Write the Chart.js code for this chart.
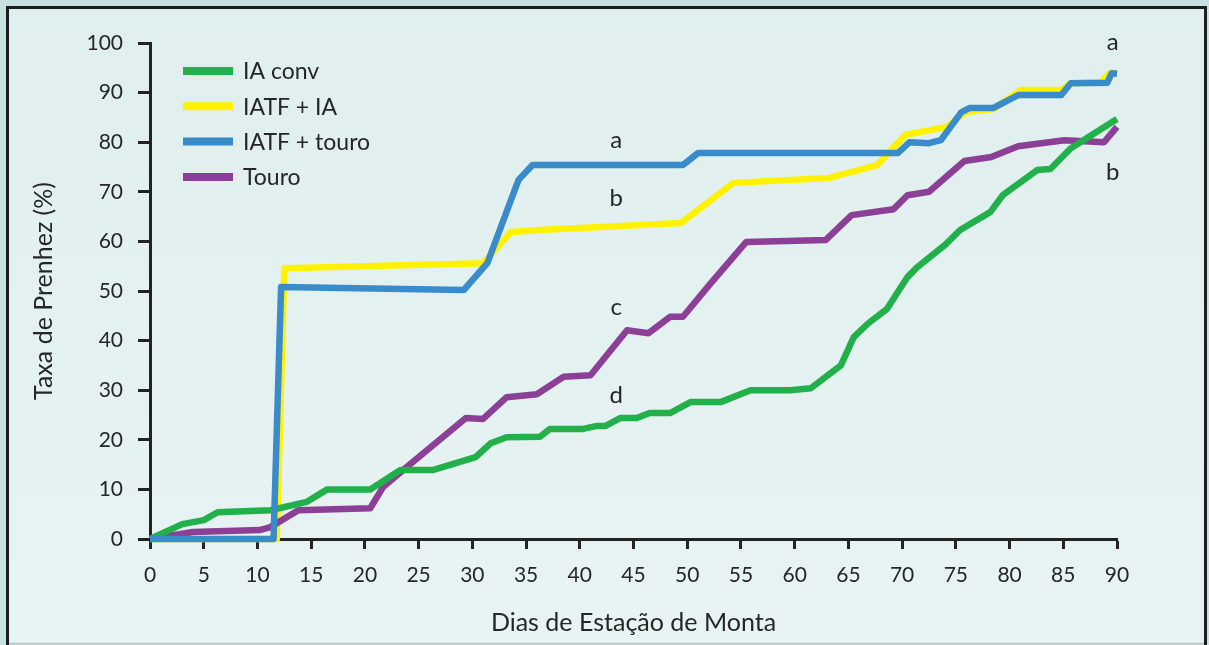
<!DOCTYPE html>
<html>
<head>
<meta charset="utf-8">
<script src="https://cdn.jsdelivr.net/npm/chart.js@4.4.0/dist/chart.umd.min.js"></script>
<style>
  html, body { margin: 0; padding: 0; background: #c8e1e1; }
  #wrap { position: relative; width: 1209px; height: 645px; }
</style>
</head>
<body>
<div id="wrap"><canvas id="chart" width="1209" height="645"></canvas></div>
<script>
// Dias de Estação de Monta (x) / Taxa de Prenhez % (y)
const iaConvX = [0, 3, 5, 6.3, 11.2, 14.6, 16.5, 20.5, 23.3, 26.3, 30.3, 31.7, 33.2, 36.3, 37.2, 40.3, 41.6, 42.4, 43.8, 45.3, 46.5, 48.4, 50.3, 53.1, 55.9, 59.6, 61.5, 64.3, 65.5, 66.8, 68.6, 70.5, 71.4, 74, 75.4, 78.2, 79.4, 82.6, 83.8, 85.7, 90];
const iaConvY = [0, 3, 3.8, 5.4, 5.8, 7.5, 10, 10, 13.9, 13.9, 16.5, 19.3, 20.5, 20.6, 22.2, 22.2, 22.8, 22.8, 24.4, 24.4, 25.4, 25.4, 27.6, 27.6, 30, 30, 30.4, 35, 40.7, 43.4, 46.4, 52.8, 54.8, 59.3, 62.3, 65.9, 69.4, 74.4, 74.6, 78.8, 84.7];

const iatfIaX = [0, 11.8, 12.5, 31, 33.6, 36.3, 49.4, 54.3, 63.2, 67.7, 70.3, 74.2, 75.9, 78.5, 81, 84.8, 85.7, 88.5, 89.3, 90];
const iatfIaY = [0, 0, 54.6, 55.6, 61.9, 62.3, 63.7, 71.8, 72.8, 75.4, 81.5, 83.1, 86.1, 86.7, 90.5, 90.5, 91.9, 92.1, 93.9, 93.9];

const iatfTouroX = [0, 11.5, 12.2, 29.2, 31.4, 34.3, 35.6, 49.6, 51, 69.6, 70.7, 72.5, 73.6, 75.5, 76.3, 78.5, 80.8, 84.8, 85.7, 89.1, 89.5, 90];
const iatfTouroY = [0, 0, 50.8, 50.2, 55.6, 72.4, 75.4, 75.4, 77.8, 77.8, 80, 79.8, 80.4, 86, 86.9, 86.9, 89.5, 89.5, 91.9, 92, 93.9, 93.8];

const touroX = [0, 4, 10.2, 11.2, 13.8, 20.5, 21.7, 23.9, 29.4, 31, 33.2, 36, 38.5, 41, 44.4, 46.4, 48.4, 49.6, 52.2, 55.5, 62.9, 65.3, 69.2, 70.5, 72.5, 75.8, 78.3, 80.8, 85.1, 88.8, 90];
const touroY = [0, 1.4, 1.8, 2.4, 5.8, 6.2, 10.5, 14.5, 24.4, 24.2, 28.6, 29.2, 32.7, 33, 42.1, 41.5, 44.8, 44.8, 51.6, 59.9, 60.3, 65.3, 66.5, 69.3, 70, 76.2, 77, 79.2, 80.4, 80, 83.1];

// letras de significância
const letterText = ['a', 'b', 'c', 'd', 'a', 'b'];
const letterX = [43.4, 43.4, 43.4, 43.4, 89.6, 89.6];
const letterY = [80.4, 68.7, 46.8, 29, 100.2, 74];

const xTicksMax = 90, xStep = 5, yMax = 100, yStep = 10;

const textColor = '#262626';
const FONT = 'Lato, "Noto Sans", sans-serif';

function pts(xs, ys) { return xs.map((x, i) => ({ x: x, y: ys[i] })); }

const frame = {
    id: 'frame',
    beforeDraw(chart) {
        const ctx = chart.ctx, w = chart.width, h = chart.height;
        ctx.save();
        ctx.fillStyle = '#c8e1e1';
        ctx.fillRect(0, 0, w, h);
        const g = ctx.createLinearGradient(0, 8, 0, h);
        g.addColorStop(0, '#dfeeee');
        g.addColorStop(1, '#e8f4f3');
        ctx.fillStyle = g;
        ctx.fillRect(8, 8, w - 12, h - 10);
        ctx.strokeStyle = '#1e1e1e';
        ctx.lineWidth = 3;
        ctx.beginPath();
        ctx.moveTo(7.5, h);
        ctx.lineTo(7.5, 7.5);
        ctx.lineTo(w - 3.5, 7.5);
        ctx.lineTo(w - 3.5, h);
        ctx.stroke();
        ctx.strokeStyle = '#b8c4c4';
        ctx.lineWidth = 1.5;
        ctx.beginPath();
        ctx.moveTo(9, h - 1.5);
        ctx.lineTo(w - 5, h - 1.5);
        ctx.stroke();
        ctx.restore();
    }
};

const extras = {
    id: 'extras',
    afterDatasetsDraw(chart) {
        const ctx = chart.ctx, a = chart.chartArea, xs = chart.scales.x, ys = chart.scales.y;
        ctx.save();
        // legenda
        ctx.font = '23px ' + FONT;
        ctx.textBaseline = 'middle';
        ctx.fillStyle = textColor;
        chart.data.datasets.forEach((ds, i) => {
            const y = a.top + 28 + i * 35.3;
            ctx.strokeStyle = ds.borderColor;
            ctx.lineWidth = 8;
            ctx.beginPath();
            ctx.moveTo(a.left + 33, y);
            ctx.lineTo(a.left + 83, y);
            ctx.stroke();
            ctx.fillText(ds.label, a.left + 93, y + 1);
        });
        // letras
        ctx.font = '24px ' + FONT;
        ctx.textAlign = 'center';
        letterText.forEach((t, i) => {
            ctx.fillText(t, xs.getPixelForValue(letterX[i]), ys.getPixelForValue(letterY[i]));
        });
        ctx.restore();
    }
};

const lineStyle = { borderWidth: 6.5, pointRadius: 0, tension: 0, fill: false, borderJoinStyle: 'round', clip: false };

new Chart(document.getElementById('chart'), {
    type: 'line',
    data: {
        datasets: [
            { label: 'IA conv', data: pts(iaConvX, iaConvY), borderColor: '#22b04b', order: 2, ...lineStyle },
            { label: 'IATF + IA', data: pts(iatfIaX, iatfIaY), borderColor: '#fff200', order: 4, ...lineStyle },
            { label: 'IATF + touro', data: pts(iatfTouroX, iatfTouroY), borderColor: '#3a8bc9', order: 1, ...lineStyle },
            { label: 'Touro', data: pts(touroX, touroY), borderColor: '#8c3f96', order: 3, ...lineStyle }
        ]
    },
    options: {
        responsive: false,
        animation: false,
        layout: { padding: { top: 43, right: 92, left: 0, bottom: 0 } },
        plugins: { legend: { display: false }, tooltip: { enabled: false } },
        scales: {
            x: {
                type: 'linear', min: 0, max: xTicksMax,
                afterFit(s) { s.height = 106; },
                border: { color: '#222', width: 3 },
                grid: { drawOnChartArea: false, drawTicks: true, tickLength: 10, tickWidth: 3, tickColor: '#222' },
                ticks: { stepSize: xStep, color: textColor, font: { family: FONT, size: 21 }, padding: 14, maxRotation: 0 },
                title: { display: true, text: 'Dias de Estação de Monta', color: textColor, font: { family: FONT, size: 25 }, padding: { top: 0, bottom: 7 } }
            },
            y: {
                min: 0, max: yMax,
                afterFit(s) { s.width = 150; },
                border: { color: '#222', width: 3 },
                grid: { drawOnChartArea: false, drawTicks: true, tickLength: 12, tickWidth: 3, tickColor: '#222' },
                ticks: { stepSize: yStep, color: textColor, font: { family: FONT, size: 21 }, padding: 15 },
                title: { display: true, text: 'Taxa de Prenhez (%)', color: textColor, font: { family: FONT, size: 25 }, padding: { top: 29, bottom: 0 } }
            }
        }
    },
    plugins: [frame, extras]
});
</script>
</body>
</html>
